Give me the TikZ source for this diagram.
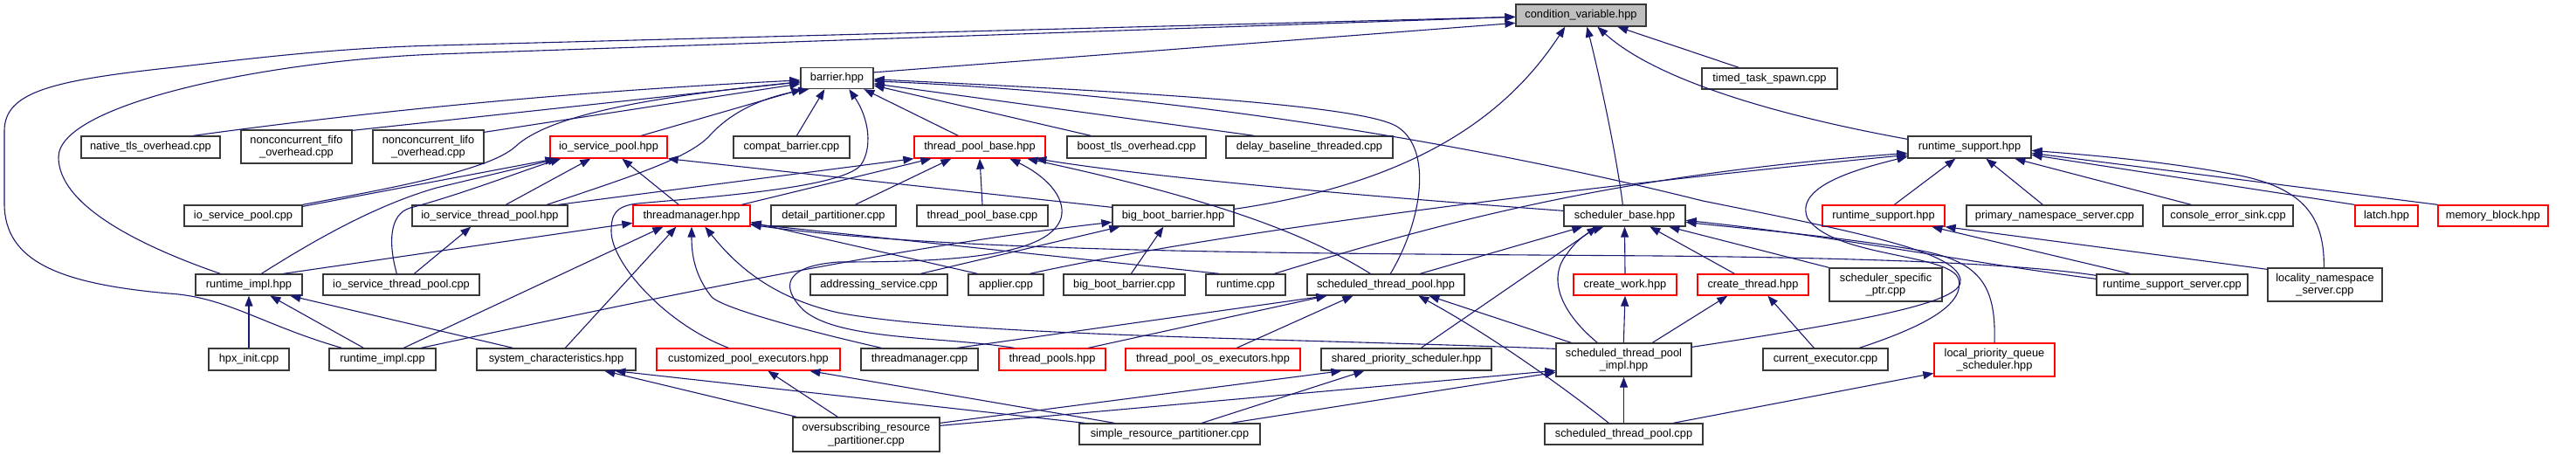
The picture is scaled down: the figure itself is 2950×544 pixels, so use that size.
\documentclass[tikz,border=0pt]{standalone}
\usepackage{fontspec}
\setmainfont{Liberation Sans}
\usetikzlibrary{arrows.meta}
\definecolor{edgeblue}{HTML}{191970}
\definecolor{nodegrey}{HTML}{BFBFBF}
\newcommand{\mknode}[6]{\node[#1, minimum width=#4pt, minimum height=#5pt] (#2) at (#3) {#6};}
\begin{document}
\begin{tikzpicture}[x=1pt,y=-1pt,
  bbox/.style={draw=black!78, line width=1.3pt, fill=white, inner sep=0pt, align=center, font=\fontsize{12.8}{14.5}\selectfont},
  rbox/.style={bbox, draw=red},
  gbox/.style={bbox, fill=nodegrey},
  edge/.style={draw=edgeblue, line width=1.1pt, -{Triangle[length=12pt,width=9pt]}}]
\useasboundingbox (0,0) rectangle (2950,544);
% row 0
\mknode{gbox}{cv}{1810.5,17.5}{149}{25}{condition\_variable.hpp}
% row 1
\mknode{bbox}{barrier}{958.5,89.5}{83}{24}{barrier.hpp}
\mknode{bbox}{tts}{2026.5,90}{155}{24}{timed\_task\_spawn.cpp}
% row 2
\mknode{bbox}{native}{172.5,168.5}{159}{25}{native\_tls\_overhead.cpp}
\mknode{bbox}{ncfifo}{339.5,168}{127}{38}{nonconcurrent\_fifo\\\_overhead.cpp}
\mknode{bbox}{nclifo}{490.5,168}{127}{38}{nonconcurrent\_lifo\\\_overhead.cpp}
\mknode{rbox}{iosph}{697,168.5}{134}{25}{io\_service\_pool.hpp}
\mknode{bbox}{compat}{906.5,168.5}{133}{25}{compat\_barrier.cpp}
\mknode{rbox}{tpbh}{1122,168.5}{150}{25}{thread\_pool\_base.hpp}
\mknode{bbox}{boosttls}{1301.5,168.5}{159}{25}{boost\_tls\_overhead.cpp}
\mknode{bbox}{delay}{1499.5,168.5}{191}{25}{delay\_baseline\_threaded.cpp}
\mknode{bbox}{rsh}{2255.5,168.5}{141}{25}{runtime\_support.hpp}
% row 3
\mknode{bbox}{iospc}{278.5,247}{135}{24}{io\_service\_pool.cpp}
\mknode{bbox}{iostph}{561,247}{178}{24}{io\_service\_thread\_pool.hpp}
\mknode{rbox}{tmh}{792,247}{134}{24}{threadmanager.hpp}
\mknode{bbox}{detail}{954.5,247}{143}{24}{detail\_partitioner.cpp}
\mknode{bbox}{tpbc}{1125,247}{150}{24}{thread\_pool\_base.cpp}
\mknode{bbox}{bbbh}{1343.5,247}{139}{24}{big\_boot\_barrier.hpp}
\mknode{bbox}{sb}{1860.5,247}{139}{24}{scheduler\_base.hpp}
\mknode{rbox}{rsr}{2157,247}{140}{24}{runtime\_support.hpp}
\mknode{bbox}{pns}{2353,247}{202}{24}{primary\_namespace\_server.cpp}
\mknode{bbox}{ces}{2551.5,247}{149}{24}{console\_error\_sink.cpp}
\mknode{rbox}{latch}{2733,247}{72}{24}{latch.hpp}
\mknode{rbox}{memblock}{2855,247}{126}{24}{memory\_block.hpp}
% row 4
\mknode{bbox}{rih}{285,326}{122}{24}{runtime\_impl.hpp}
\mknode{bbox}{iostpc}{459.5,326}{179}{24}{io\_service\_thread\_pool.cpp}
\mknode{bbox}{addr}{1006.5,326}{157}{24}{addressing\_service.cpp}
\mknode{bbox}{applier}{1152,326}{86}{24}{applier.cpp}
\mknode{bbox}{bbbc}{1287.5,326}{139}{24}{big\_boot\_barrier.cpp}
\mknode{bbox}{runtime}{1426.5,326}{91}{24}{runtime.cpp}
\mknode{bbox}{stph}{1587,326}{180}{24}{scheduled\_thread\_pool.hpp}
\mknode{rbox}{cw}{1861,326}{118}{24}{create\_work.hpp}
\mknode{rbox}{ct}{2007.5,326}{127}{24}{create\_thread.hpp}
\mknode{bbox}{ssp}{2159.5,326}{129}{38}{scheduler\_specific\\\_ptr.cpp}
\mknode{bbox}{rss}{2487.5,326}{173}{24}{runtime\_support\_server.cpp}
\mknode{bbox}{lns}{2662.5,326}{131}{38}{locality\_namespace\\\_server.cpp}
% row 5
\mknode{bbox}{hpxinit}{285,411.5}{92}{25}{hpx\_init.cpp}
\mknode{bbox}{ric}{438,411.5}{122}{25}{runtime\_impl.cpp}
\mknode{bbox}{sysch}{637,411.5}{182}{25}{system\_characteristics.hpp}
\mknode{rbox}{cpe}{857,411.5}{210}{25}{customized\_pool\_executors.hpp}
\mknode{bbox}{tmc}{1053,411.5}{134}{25}{threadmanager.cpp}
\mknode{rbox}{tps}{1205,411.5}{122}{25}{thread\_pools.hpp}
\mknode{rbox}{tpose}{1389,411.5}{200}{25}{thread\_pool\_os\_executors.hpp}
\mknode{bbox}{sps}{1610.5,411.5}{195}{25}{shared\_priority\_scheduler.hpp}
\mknode{bbox}{stpi}{1859.5,412}{155}{38}{scheduled\_thread\_pool\\\_impl.hpp}
\mknode{bbox}{ce}{2090.5,411.5}{143}{25}{current\_executor.cpp}
\mknode{rbox}{lpqs}{2284,412}{138}{38}{local\_priority\_queue\\\_scheduler.hpp}
% row 6
\mknode{bbox}{osrp}{992,497.5}{168}{39}{oversubscribing\_resource\\\_partitioner.cpp}
\mknode{bbox}{srp}{1339.5,497}{207}{24}{simple\_resource\_partitioner.cpp}
\mknode{bbox}{stpc}{1859.5,497}{181}{24}{scheduled\_thread\_pool.cpp}

% ---- edges to condition_variable.hpp
\draw[edge] ([yshift=-6pt]barrier.north east) -- ([yshift=-22pt]cv.north west);
\draw[edge] ([xshift=43pt]tts.north west) -- ([xshift=117pt]cv.south west);
\draw[edge] ([yshift=-4pt]rsh.north west) .. controls (2050,135) and (1900,95) .. ([xshift=94pt]cv.south west);
\draw[edge] ([xshift=68pt]sb.north west) .. controls (1850,170) and (1830,80) .. ([xshift=82pt]cv.south west);
\draw[edge] ([yshift=-5pt]bbbh.north east) .. controls (1650,205) and (1740,110) .. ([xshift=57pt]cv.south west);
\draw[edge] ([xshift=29pt]rih.north west) .. controls (150,278) and (67,232) .. (67,180) .. controls (67,120) and (300,70) .. (500,62) -- ([yshift=-15pt]cv.north west);
\draw[edge] ([xshift=15pt]ric.north west) .. controls (300,372) and (260,340) .. (193,336) .. controls (70,325) and (5,300) .. (5,233) -- (5,150) .. controls (5,105) and (60,92) .. (200,77) .. controls (280,68) and (380,55) .. (500,52) -- ([yshift=-15pt]cv.north west);

% ---- edges to barrier.hpp
\draw[edge] ([xshift=129pt]native.north west) .. controls (420,128) and (650,105) .. ([yshift=-15pt]barrier.north west);
\draw[edge] ([yshift=-1pt]ncfifo.north east) -- ([yshift=-17pt]barrier.north west);
\draw[edge] ([yshift=-3pt]nclifo.north east) -- ([yshift=-19pt]barrier.north west);
\draw[edge] (iospc.north east) .. controls (450,215) and (560,195) .. (590,168) .. controls (620,140) and (700,115) .. ([yshift=-17pt]barrier.north west);
\draw[edge] ([xshift=105pt]iosph.north west) -- ([xshift=2pt]barrier.south west);
\draw[edge] ([xshift=155pt]iostph.north west) .. controls (730,200) and (790,180) .. (813,155) .. controls (840,125) and (880,110) .. ([xshift=10pt]barrier.south west);
\draw[edge] ([xshift=73pt]compat.north west) -- ([xshift=28pt]barrier.south west);
\draw[edge] ([xshift=51pt]tpbh.north west) -- ([xshift=73pt]barrier.south west);
\draw[edge] ([xshift=28pt]boosttls.north west) -- ([yshift=-21pt]barrier.north east);
\draw[edge] ([xshift=33pt]delay.north west) -- ([yshift=-19pt]barrier.north east);
\draw[edge] ([xshift=83pt]cpe.north west) .. controls (760,370) and (700,300) .. (700,265) .. controls (700,245) and (705,236) .. (730,233) .. controls (820,225) and (960,215) .. (985,190) .. controls (1000,170) and (995,135) .. ([xshift=56pt]barrier.south west);
\draw[edge] ([xshift=96pt]stph.north west) .. controls (1630,250) and (1640,170) .. (1600,145) .. controls (1560,120) and (1300,105) .. ([yshift=-14pt]barrier.north east);
\draw[edge] ([yshift=-5pt]stpi.north east) .. controls (2150,365) and (2250,345) .. (2245,320) .. controls (2240,290) and (2150,270) .. (1950,230) .. controls (1750,180) and (1400,110) .. ([yshift=-16pt]barrier.north east);

% ---- edges to io_service_pool.hpp
\draw[edge] ([yshift=-2pt]iospc.north east) -- ([xshift=7pt]iosph.south west);
\draw[edge] ([xshift=76pt]rih.north west) .. controls (360,275) and (430,235) .. (500,215) -- ([xshift=10pt]iosph.south west);
\draw[edge] ([xshift=85pt]iostpc.north west) .. controls (445,280) and (445,245) .. (470,238) .. controls (530,222) and (600,195) .. ([xshift=13pt]iosph.south west);
\draw[edge] ([xshift=108pt]iostph.north west) -- ([xshift=47pt]iosph.south west);
\draw[edge] ([xshift=53pt]tmh.north west) -- ([xshift=83pt]iosph.south west);
\draw[edge] ([yshift=-3pt]bbbh.north west) -- (iosph.south east);

% ---- edges to thread_pool_base.hpp
\draw[edge] ([xshift=168pt]iostph.north west) -- (tpbh.south west);
\draw[edge] ([xshift=125pt]tmh.north west) -- ([xshift=20pt]tpbh.south west);
\draw[edge] ([xshift=97pt]detail.north west) -- ([xshift=43pt]tpbh.south west);
\draw[edge] (tpbc.north) -- (tpbh.south);
\draw[edge] ([xshift=18pt]tps.north west) .. controls (1080,385) and (960,390) .. (920,355) .. controls (895,330) and (895,305) .. (960,300) .. controls (1080,300) and (1200,295) .. (1215,250) .. controls (1222,225) and (1195,200) .. ([xshift=110pt]tpbh.south west);
\draw[edge] ([xshift=73pt]stph.north west) .. controls (1500,270) and (1400,230) .. ([xshift=130pt]tpbh.south west);
\draw[edge] ([yshift=-7pt]sb.north west) .. controls (1500,220) and (1300,200) .. ([xshift=140pt]tpbh.south west);

% ---- io_service_thread_pool.hpp
\draw[edge] ([xshift=105pt]iostpc.north west) -- ([xshift=68pt]iostph.south west);

% ---- threadmanager.hpp
\draw[edge] ([xshift=101pt]rih.north west) -- ([yshift=-21pt]tmh.north west);
\draw[edge] ([xshift=86pt]ric.north west) -- ([xshift=35pt]tmh.south west);
\draw[edge] ([xshift=102pt]sysch.north west) -- ([xshift=50pt]tmh.south west);
\draw[edge] ([xshift=24pt]tmc.north west) .. controls (950,385) and (830,355) .. (815,340) .. controls (795,315) and (792,290) .. (tmh.south);
\draw[edge] ([yshift=-7pt]stpi.north west) .. controls (1500,388) and (1100,385) .. (960,358) .. controls (880,340) and (840,300) .. ([xshift=83pt]tmh.south west);
\draw[edge] ([xshift=16pt]runtime.north west) -- ([yshift=-22pt]tmh.north east);
\draw[edge] ([xshift=11pt]applier.north west) -- ([yshift=-20pt]tmh.north east);
\draw[edge] ([yshift=-2pt]rss.north west) .. controls (2300,300) and (2100,295) .. (1900,293) .. controls (1500,290) and (1100,290) .. ([yshift=-23pt]tmh.north east);

% ---- big_boot_barrier.hpp
\draw[edge] ([xshift=127pt]addr.north west) -- ([xshift=9pt]bbbh.south west);
\draw[edge] ([xshift=78pt]bbbc.north west) -- ([xshift=59pt]bbbh.south west);
\draw[edge] ([xshift=106pt]ric.north west) .. controls (800,330) and (1050,280) .. ([yshift=-20pt]bbbh.north west);

% ---- runtime_support.hpp (top)
\draw[edge] ([xshift=71pt]applier.north west) .. controls (1400,265) and (1800,215) .. ([yshift=-22pt]rsh.north west);
\draw[edge] ([xshift=79pt]runtime.north west) .. controls (1650,255) and (1850,200) .. ([yshift=-20pt]rsh.north west);
\draw[edge] ([xshift=83pt]rsr.north west) -- ([xshift=55pt]rsh.south west);
\draw[edge] ([xshift=88pt]pns.north west) -- ([xshift=90pt]rsh.south west);
\draw[edge] ([xshift=33pt]ces.north west) -- ([xshift=123pt]rsh.south west);
\draw[edge] (latch.north west) -- ([yshift=-22pt]rsh.north east);
\draw[edge] (memblock.north west) -- ([yshift=-20pt]rsh.north east);
\draw[edge] ([xshift=65pt]lns.north west) .. controls (2662,250) and (2640,215) .. (2560,200) .. controls (2480,185) and (2400,178) .. ([yshift=-17pt]rsh.north east);
\draw[edge] ([xshift=111pt]ce.north west) .. controls (2200,375) and (2250,350) .. (2243,320) .. controls (2235,290) and (2100,295) .. (2070,250) .. controls (2055,215) and (2120,195) .. ([yshift=-24pt]rsh.north west);

% ---- runtime_support.hpp (red)
\draw[edge] ([xshift=39pt]rss.north west) -- ([xshift=126pt]rsr.south west);
\draw[edge] ([yshift=-2pt]lns.north west) -- (rsr.south east);

% ---- scheduler_base.hpp
\draw[edge] ([xshift=130pt]stph.north west) -- ([xshift=22pt]sb.south west);
\draw[edge] ([xshift=115pt]sps.north west) -- ([xshift=39pt]sb.south west);
\draw[edge] ([xshift=48pt]stpi.north west) .. controls (1790,360) and (1770,320) .. (1795,290) .. controls (1805,275) and (1820,265) .. ([xshift=46pt]sb.south west);
\draw[edge] (cw.north) -- (sb.south);
\draw[edge] ([xshift=43pt]ct.north west) -- ([xshift=99pt]sb.south west);
\draw[edge] (ssp.north west) -- ([xshift=121pt]sb.south west);
\draw[edge] (lpqs.north) .. controls (2286,330) and (2270,300) .. (2200,287) .. controls (2100,270) and (2000,262) .. ([yshift=-20pt]sb.north east);
\draw[edge] ([yshift=-6pt]rss.north west) .. controls (2250,300) and (2100,270) .. ([yshift=-18pt]sb.north east);

% ---- runtime_impl.hpp
\draw[edge] (hpxinit.north) -- (rih.south);
\draw[edge] ([xshift=40pt]ric.north west) -- ([xshift=86pt]rih.south west);
\draw[edge] ([xshift=42pt]sysch.north west) -- ([xshift=109pt]rih.south west);

% ---- scheduled_thread_pool.hpp
\draw[edge] ([xshift=111pt]tmc.north west) -- ([xshift=23pt]stph.south west);
\draw[edge] ([xshift=103pt]tps.north west) -- ([xshift=23pt]stph.south west);
\draw[edge] ([xshift=128pt]tpose.north west) -- ([xshift=53pt]stph.south west);
\draw[edge] ([xshift=18pt]stpi.north west) -- ([xshift=140pt]stph.south west);
\draw[edge] ([xshift=74pt]stpc.north west) .. controls (1780,435) and (1700,380) .. ([xshift=128pt]stph.south west);

% ---- create_work / create_thread
\draw[edge] ([xshift=78pt]stpi.north west) -- (cw.south);
\draw[edge] ([xshift=111pt]stpi.north west) -- ([xshift=35pt]ct.south west);
\draw[edge] ([xshift=59pt]ce.north west) -- ([xshift=81pt]ct.south west);

% ---- system_characteristics / customized_pool_executors / shared_priority_scheduler
\draw[edge] ([xshift=5pt]osrp.north west) -- ([xshift=147pt]sysch.south west);
\draw[edge] ([xshift=7pt]srp.north west) -- ([xshift=159pt]sysch.south west);
\draw[edge] ([xshift=52pt]osrp.north west) -- ([xshift=128pt]cpe.south west);
\draw[edge] ([xshift=41pt]srp.north west) -- ([xshift=176pt]cpe.south west);
\draw[edge] ([yshift=-7pt]osrp.north east) -- ([xshift=24pt]sps.south west);
\draw[edge] ([xshift=141pt]srp.north west) -- ([xshift=50pt]sps.south west);

% ---- scheduled_thread_pool_impl.hpp
\draw[edge] ([yshift=-10pt]osrp.north east) -- ([yshift=-32pt]stpi.north west);
\draw[edge] ([xshift=174pt]srp.north west) -- ([yshift=-34pt]stpi.north west);
\draw[edge] (stpc.north) -- (stpi.south);

% ---- local_priority_queue_scheduler.hpp
\draw[edge] ([xshift=148pt]stpc.north west) -- ([yshift=-35pt]lpqs.north west);
\end{tikzpicture}
\end{document}
